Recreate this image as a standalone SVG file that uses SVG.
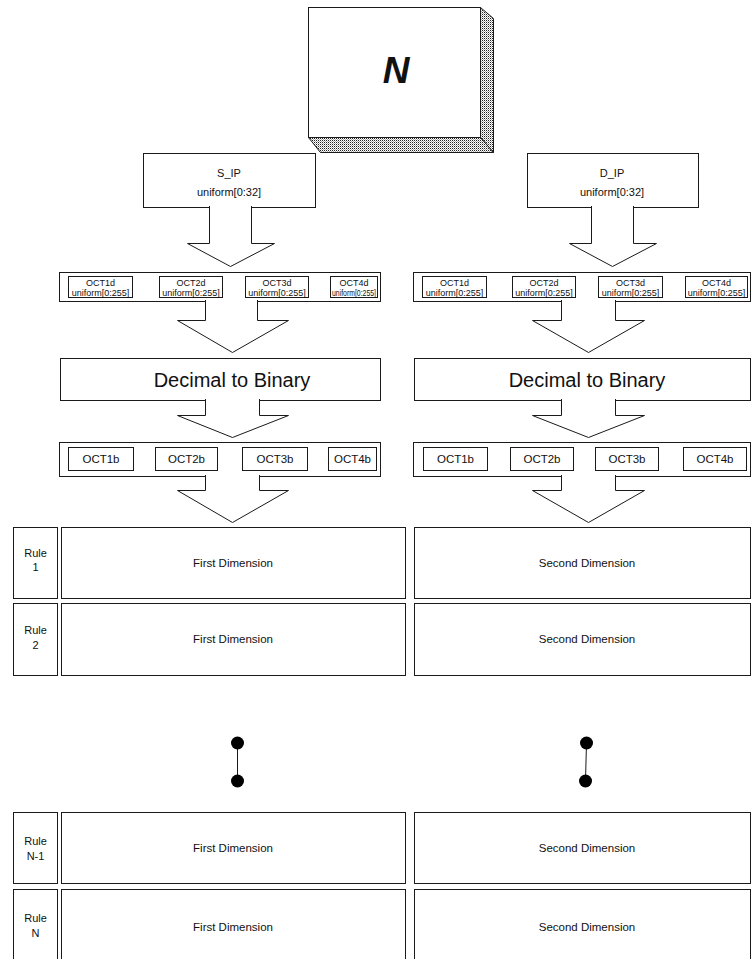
<svg xmlns="http://www.w3.org/2000/svg" width="752" height="959" viewBox="0 0 752 959">
  <defs>
    <!-- halftone stipple used for the shaded faces of the 3D box -->
    <pattern id="stipple" width="2" height="2" patternUnits="userSpaceOnUse">
      <rect width="2" height="2" fill="#ffffff"/>
      <rect width="1" height="1" fill="#222222"/>
      <rect x="1" y="1" width="1" height="1" fill="#aaaaaa"/>
    </pattern>
    <style>
      .box { fill: #ffffff; stroke: #1a1a1a; stroke-width: 1; }
      .shade { fill: url(#stipple); stroke: #1a1a1a; stroke-width: 1; }
      .arrow { fill: #ffffff; stroke: #1a1a1a; stroke-width: 1; stroke-linejoin: miter; }
      .link { stroke: #1a1a1a; stroke-width: 1; fill: none; }
      .dot { fill: #000000; }
      text { font-family: "Liberation Sans", Arial, Helvetica, sans-serif; fill: #111111; text-anchor: middle; }
      .big { font-size: 37px; font-weight: bold; font-style: italic; }
      .ip { font-size: 11px; }
      .oct { font-size: 9px; }
      .octb { font-size: 11.5px; }
      .conv { font-size: 20px; }
      .dim { font-size: 11.5px; }
      .rule { font-size: 11px; }
    </style>
  </defs>

  <rect width="752" height="959" fill="#ffffff"/>

  <!-- 3D block holding the rule count -->
  <g id="node-N">
    <rect class="box" x="308.5" y="7.5" width="172" height="130"/>
    <polygon class="shade" points="480.5,7.5 493.5,18.5 493.5,152.5 480.5,137.5"/>
    <polygon class="shade" points="308.5,137.5 480.5,137.5 493.5,152.5 320.5,152.5"/>
    <text class="big" x="396" y="83">N</text>
  </g>

  <!-- source / destination IP generators -->
  <g id="node-sip">
    <rect class="box" x="143.5" y="153.5" width="172" height="54"/>
    <text class="ip" x="229" y="177">S_IP</text>
    <text class="ip" x="229" y="196">uniform[0:32]</text>
  </g>
  <g id="node-dip">
    <rect class="box" x="527.5" y="153.5" width="171" height="54"/>
    <text class="ip" x="612" y="177">D_IP</text>
    <text class="ip" x="612" y="196">uniform[0:32]</text>
  </g>

  <!-- decimal octets, source side -->
  <g id="node-oct-d-src">
    <rect class="box" x="59.5" y="272.5" width="321" height="29"/>
    <rect class="box" x="68.5" y="276.5" width="64" height="21"/>
    <text class="oct" x="100.5" y="286">OCT1d</text>
    <text class="oct" x="100.5" y="295.5">uniform[0:255]</text>
    <rect class="box" x="159.5" y="276.5" width="63" height="21"/>
    <text class="oct" x="191" y="286">OCT2d</text>
    <text class="oct" x="191" y="295.5">uniform[0:255]</text>
    <rect class="box" x="245.5" y="276.5" width="63" height="21"/>
    <text class="oct" x="277" y="286">OCT3d</text>
    <text class="oct" x="277" y="295.5">uniform[0:255]</text>
    <rect class="box" x="330.5" y="276.5" width="47" height="21"/>
    <text class="oct" x="354" y="286">OCT4d</text>
    <text class="oct" x="354" y="295.5" textLength="44" lengthAdjust="spacingAndGlyphs">uniform[0:255]</text>
  </g>

  <!-- decimal octets, destination side -->
  <g id="node-oct-d-dst">
    <rect class="box" x="413.5" y="272.5" width="337" height="29"/>
    <rect class="box" x="422.5" y="276.5" width="64" height="21"/>
    <text class="oct" x="454.5" y="286">OCT1d</text>
    <text class="oct" x="454.5" y="295.5">uniform[0:255]</text>
    <rect class="box" x="512.5" y="276.5" width="63" height="21"/>
    <text class="oct" x="544" y="286">OCT2d</text>
    <text class="oct" x="544" y="295.5">uniform[0:255]</text>
    <rect class="box" x="598.5" y="276.5" width="64" height="21"/>
    <text class="oct" x="630.5" y="286">OCT3d</text>
    <text class="oct" x="630.5" y="295.5">uniform[0:255]</text>
    <rect class="box" x="685.5" y="276.5" width="62" height="21"/>
    <text class="oct" x="716.5" y="286">OCT4d</text>
    <text class="oct" x="716.5" y="295.5">uniform[0:255]</text>
  </g>

  <!-- conversion stages -->
  <g id="node-conv-src">
    <rect class="box" x="60.5" y="358.5" width="320" height="42"/>
    <text class="conv" x="232" y="387">Decimal to Binary</text>
  </g>
  <g id="node-conv-dst">
    <rect class="box" x="414.5" y="358.5" width="336" height="42"/>
    <text class="conv" x="587" y="387">Decimal to Binary</text>
  </g>

  <!-- binary octets -->
  <g id="node-oct-b-src">
    <rect class="box" x="59.5" y="442.5" width="321" height="34"/>
    <rect class="box" x="68.5" y="447.5" width="65" height="23"/>
    <text class="octb" x="101" y="463">OCT1b</text>
    <rect class="box" x="155.5" y="447.5" width="62" height="23"/>
    <text class="octb" x="186.5" y="463">OCT2b</text>
    <rect class="box" x="242.5" y="447.5" width="65" height="23"/>
    <text class="octb" x="275" y="463">OCT3b</text>
    <rect class="box" x="328.5" y="447.5" width="48" height="23"/>
    <text class="octb" x="352.5" y="463">OCT4b</text>
  </g>
  <g id="node-oct-b-dst">
    <rect class="box" x="413.5" y="442.5" width="337" height="34"/>
    <rect class="box" x="423.5" y="447.5" width="64" height="23"/>
    <text class="octb" x="455.5" y="463">OCT1b</text>
    <rect class="box" x="510.5" y="447.5" width="63" height="23"/>
    <text class="octb" x="542" y="463">OCT2b</text>
    <rect class="box" x="595.5" y="447.5" width="63" height="23"/>
    <text class="octb" x="627" y="463">OCT3b</text>
    <rect class="box" x="683.5" y="447.5" width="63" height="23"/>
    <text class="octb" x="715" y="463">OCT4b</text>
  </g>

  <!-- rule table -->
  <g id="node-rule-1">
    <rect class="box" x="13.5" y="527.5" width="44" height="71"/>
    <text class="rule" x="35.5" y="557">Rule</text>
    <text class="rule" x="35.5" y="571">1</text>
    <rect class="box" x="61.5" y="527.5" width="344" height="71"/>
    <text class="dim" x="233" y="567">First Dimension</text>
    <rect class="box" x="414.5" y="527.5" width="336" height="71"/>
    <text class="dim" x="587" y="567">Second Dimension</text>
  </g>
  <g id="node-rule-2">
    <rect class="box" x="13.5" y="603.5" width="44" height="72"/>
    <text class="rule" x="35.5" y="634">Rule</text>
    <text class="rule" x="35.5" y="649">2</text>
    <rect class="box" x="61.5" y="603.5" width="344" height="72"/>
    <text class="dim" x="233" y="643">First Dimension</text>
    <rect class="box" x="414.5" y="603.5" width="336" height="72"/>
    <text class="dim" x="587" y="643">Second Dimension</text>
  </g>
  <g id="node-rule-n-1">
    <rect class="box" x="13.5" y="812.5" width="44" height="71"/>
    <text class="rule" x="35.5" y="845">Rule</text>
    <text class="rule" x="35.5" y="860">N-1</text>
    <rect class="box" x="61.5" y="812.5" width="344" height="71"/>
    <text class="dim" x="233" y="852">First Dimension</text>
    <rect class="box" x="414.5" y="812.5" width="336" height="71"/>
    <text class="dim" x="587" y="852">Second Dimension</text>
  </g>
  <g id="node-rule-n">
    <rect class="box" x="13.5" y="889.5" width="44" height="80"/>
    <text class="rule" x="35.5" y="922">Rule</text>
    <text class="rule" x="35.5" y="937">N</text>
    <rect class="box" x="61.5" y="889.5" width="344" height="80"/>
    <text class="dim" x="233" y="931">First Dimension</text>
    <rect class="box" x="414.5" y="889.5" width="336" height="80"/>
    <text class="dim" x="587" y="931">Second Dimension</text>
  </g>

  <!-- vertical ellipsis between rule 2 and rule N-1 -->
  <g id="ellipsis">
    <line class="link" x1="237.5" y1="743" x2="237.5" y2="781"/>
    <circle class="dot" cx="237.5" cy="743" r="6.5"/>
    <circle class="dot" cx="237.5" cy="781" r="6.5"/>
    <line class="link" x1="586.5" y1="743" x2="585.5" y2="781"/>
    <circle class="dot" cx="586.5" cy="743" r="6.5"/>
    <circle class="dot" cx="585.5" cy="781" r="6.5"/>
  </g>

  <!-- block arrows; each opens into the bottom edge of its source box -->
  <g id="connectors">
    <path class="arrow" d="M209.5,206 V243.5 H187.5 L230.5,266.5 L274.5,243.5 H251.5 V206"/>
    <path class="arrow" d="M591.5,206 V243.5 H569.5 L612.5,266.5 L656.5,243.5 H633.5 V206"/>

    <path class="arrow" d="M205.5,300 V320.5 H177.5 L232.5,352.5 L288.5,320.5 H257.5 V300"/>
    <path class="arrow" d="M561.5,300 V320.5 H532.5 L588.5,352.5 L644.5,320.5 H615.5 V300"/>

    <path class="arrow" d="M205.5,399 V415.5 H177.5 L232.5,437.5 L288.5,415.5 H259.5 V399"/>
    <path class="arrow" d="M561.5,399 V415.5 H532.5 L588.5,437.5 L644.5,415.5 H615.5 V399"/>

    <path class="arrow" d="M205.5,475 V490.5 H177.5 L232.5,522.5 L288.5,490.5 H259.5 V475"/>
    <path class="arrow" d="M561.5,475 V490.5 H532.5 L588.5,522.5 L644.5,490.5 H615.5 V475"/>
  </g>
</svg>
